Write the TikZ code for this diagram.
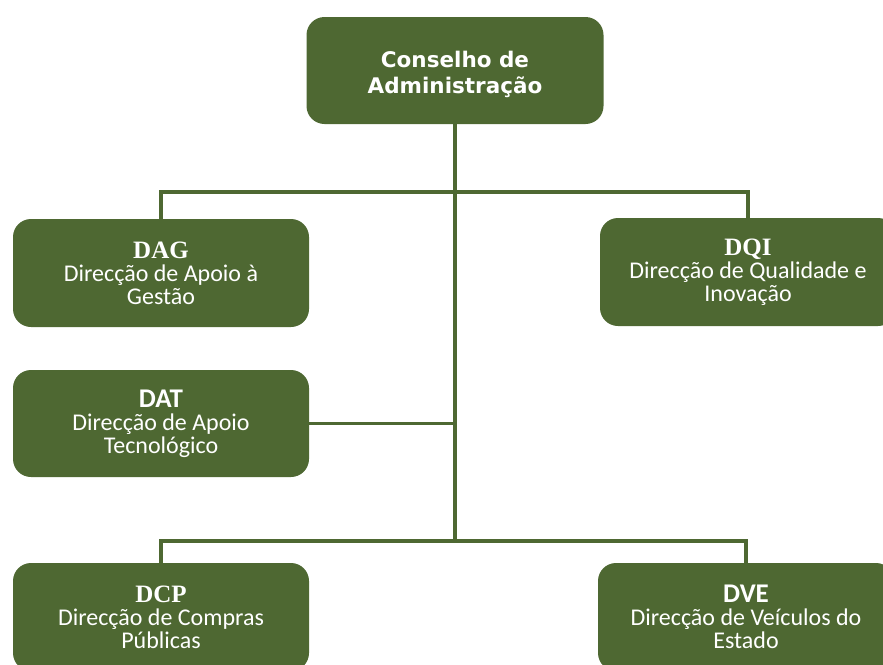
\documentclass[tikz,border=0pt]{standalone}
\usepackage{fontspec}
\setmainfont{Carlito}
\newfontfamily\topfont{DejaVu Sans}
\newfontfamily\serifbold{Liberation Serif}
\definecolor{olive}{RGB}{78,104,50}
\newcommand{\sertitle}[1]{{\serifbold\bfseries\fontsize{25}{23}\selectfont #1}}
\newcommand{\santitle}[1]{{\bfseries\fontsize{27}{23}\selectfont #1}}
\begin{document}
\begin{tikzpicture}[x=1pt,y=-1pt,
  box/.style={draw=none,fill=olive,rounded corners=18pt,minimum width=296pt,minimum height=108pt,
    text=white,align=center,inner sep=0pt,font=\fontsize{24}{23}\selectfont},
  toptext/.style={text=white,align=center,inner sep=0pt,font=\topfont\bfseries\fontsize{21.5}{26}\selectfont},
  link/.style={draw=olive,line width=3.2pt}]
\clip (0,0) rectangle (883,664);
\node[box,minimum width=297pt,minimum height=107pt] (CA) at (455,70.5) {};
\node[toptext] (CAtext) at ([yshift=-4pt]CA.center) {Conselho de\\Administração};
\node[box] (DAG) at (161,273) {\sertitle{DAG}\\Direcção de Apoio à\\Gestão};
\node[box] (DQI) at (748,272) {\sertitle{DQI}\\Direcção de Qualidade e\\Inovação};
\node[box,minimum height=107pt] (DAT) at (161,423.5) {\santitle{DAT}\\Direcção de Apoio\\Tecnológico};
\node[box] (DCP) at (161,617) {\sertitle{DCP}\\Direcção de Compras\\Públicas};
\node[box] (DVE) at (746,617) {\santitle{DVE}\\Direcção de Veículos do\\Estado};
\coordinate (t1) at (CA.south |- 0,192);
\coordinate (t2) at (CA.south |- 0,541);
\draw[link] (CA.south) -- (t2);
\draw[link] (DAG.north) |- (t1) -| (DQI.north);
\draw[link] (DAT.east) -- (DAT.east -| CA.south);
\draw[link] (DCP.north) |- (t2) -| (DVE.north);
\end{tikzpicture}
\end{document}
